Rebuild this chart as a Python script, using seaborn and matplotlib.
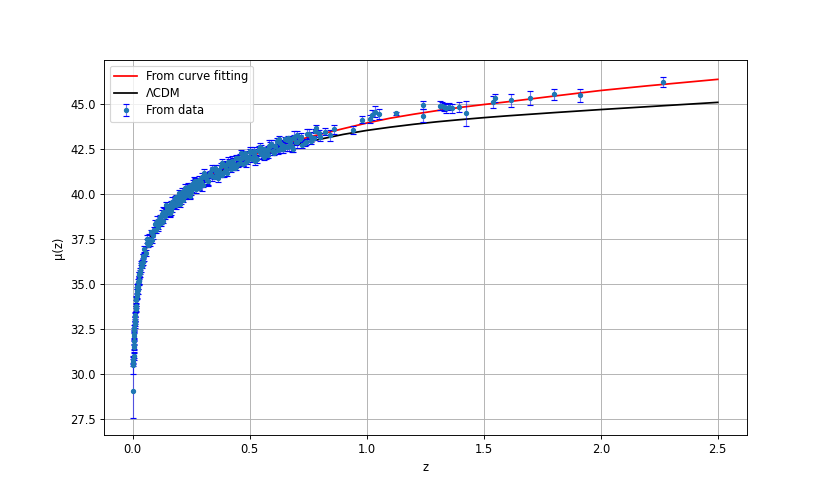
import matplotlib
matplotlib.use("Agg")
import matplotlib.pyplot as plt
import seaborn as sns
import pandas as pd

# ---------------- curves ----------------
z_fit = [0.01, 0.02, 0.03, 0.05, 0.075, 0.1, 0.15, 0.2, 0.25, 0.3, 0.35, 0.4, 0.45, 0.5, 0.55,
         0.6, 0.65, 0.7, 0.75, 0.8, 0.9, 1.0, 1.1, 1.2, 1.3, 1.4, 1.5, 1.6, 1.8, 2.0, 2.2, 2.4, 2.5]
mu_fit = [33.15, 34.66, 35.56, 36.68, 37.54, 38.17, 39.08, 39.76, 40.30, 40.76, 41.14, 41.48, 41.78,
          42.06, 42.31, 42.54, 42.76, 42.96, 43.14, 43.30, 43.62, 43.93, 44.20, 44.42, 44.62, 44.80,
          44.96, 45.11, 45.43, 45.74, 46.00, 46.24, 46.36]

z_lcdm = [0.01, 0.02, 0.03, 0.05, 0.075, 0.1, 0.15, 0.2, 0.25, 0.3, 0.35, 0.4, 0.45, 0.5, 0.55,
          0.6, 0.65, 0.7, 0.75, 0.8, 0.9, 1.0, 1.1, 1.2, 1.3, 1.4, 1.5, 1.6, 1.8, 2.0, 2.2, 2.4, 2.5]
mu_lcdm = [33.15, 34.66, 35.56, 36.68, 37.54, 38.17, 39.07, 39.74, 40.26, 40.70, 41.07, 41.40, 41.68,
           41.94, 42.17, 42.38, 42.56, 42.73, 42.88, 43.03, 43.30, 43.52, 43.70, 43.86, 44.00, 44.12,
           44.23, 44.33, 44.51, 44.68, 44.84, 45.00, 45.08]

# ---------------- data ----------------
z_low = [0.0012, 0.0028, 0.0030, 0.0032, 0.0035, 0.004, 0.0045, 0.005, 0.0055, 0.006, 0.0065, 0.007,
         0.0075, 0.008, 0.0085, 0.009, 0.0095, 0.010, 0.011, 0.012, 0.013, 0.014, 0.015, 0.016, 0.017,
         0.018, 0.019, 0.020, 0.021, 0.022, 0.023, 0.024, 0.025, 0.026, 0.027, 0.028, 0.029, 0.030,
         0.032, 0.034, 0.036, 0.038, 0.040, 0.042, 0.044, 0.046, 0.048, 0.050]
mu_low = [29.02, 30.45, 30.62, 30.78, 30.99, 30.98, 31.47, 31.57, 32.07, 31.79, 32.22, 32.53, 32.41,
          32.97, 32.75, 33.00, 32.84, 33.27, 33.18, 33.60, 33.64, 34.10, 33.78, 34.17, 34.45, 34.31,
          34.84, 34.61, 34.84, 34.66, 35.08, 34.87, 35.19, 35.15, 35.53, 35.14, 35.46, 35.71, 35.58,
          36.13, 35.91, 36.16, 35.99, 36.42, 36.22, 36.55, 36.52, 36.90]
err_low = [1.50, 0.45, 0.20, 0.18, 0.15, 0.20, 0.12, 0.25, 0.18, 0.14, 0.22, 0.16, 0.10, 0.24, 0.19,
           0.15, 0.20, 0.12, 0.25, 0.18, 0.14, 0.22, 0.16, 0.10, 0.24, 0.19, 0.15, 0.20, 0.12, 0.25,
           0.18, 0.14, 0.22, 0.16, 0.10, 0.24, 0.19, 0.15, 0.20, 0.12, 0.25, 0.18, 0.14, 0.22, 0.16,
           0.10, 0.24, 0.19]

z_mid = [0.055, 0.060, 0.065, 0.070, 0.075, 0.080, 0.085, 0.090, 0.095, 0.100, 0.105, 0.110, 0.115,
         0.120, 0.125, 0.130, 0.135, 0.140, 0.145, 0.150, 0.155, 0.160, 0.165, 0.170, 0.175, 0.180,
         0.185, 0.190, 0.195, 0.200, 0.205, 0.210, 0.215, 0.220, 0.225, 0.230, 0.235, 0.240, 0.245,
         0.250, 0.255, 0.260, 0.265, 0.270, 0.275, 0.280, 0.285, 0.290, 0.295, 0.300]
mu_mid = [36.71, 37.25, 37.17, 37.49, 37.26, 37.86, 37.71, 37.97, 38.31, 37.97, 38.35, 38.26, 38.62,
          38.56, 38.89, 38.50, 38.94, 38.78, 39.21, 39.03, 39.26, 38.95, 39.48, 39.27, 39.47, 39.76,
          39.37, 39.71, 39.58, 39.90, 39.80, 40.09, 39.67, 40.07, 39.89, 40.29, 40.09, 40.30, 39.97,
          40.48, 40.25, 40.42, 40.69, 40.29, 40.60, 40.46, 40.76, 40.65, 40.93, 40.50]
err_mid = [0.16, 0.22, 0.13, 0.27, 0.19, 0.12, 0.24, 0.17, 0.21, 0.14,
           0.16, 0.22, 0.13, 0.27, 0.19, 0.12, 0.24, 0.17, 0.21, 0.14,
           0.16, 0.22, 0.13, 0.27, 0.19, 0.12, 0.24, 0.17, 0.21, 0.14,
           0.16, 0.22, 0.13, 0.27, 0.19, 0.12, 0.24, 0.17, 0.21, 0.14,
           0.16, 0.22, 0.13, 0.27, 0.19, 0.12, 0.24, 0.17, 0.21, 0.14]

z_up = [0.31, 0.32, 0.33, 0.34, 0.35, 0.36, 0.37, 0.38, 0.39, 0.40, 0.41, 0.42, 0.43, 0.44, 0.45,
        0.46, 0.47, 0.48, 0.49, 0.50, 0.51, 0.52, 0.53, 0.54, 0.55, 0.56, 0.57, 0.58, 0.59, 0.60,
        0.61, 0.62, 0.63, 0.64, 0.65, 0.66, 0.67, 0.68, 0.69, 0.70, 0.72, 0.74, 0.76, 0.78, 0.80, 0.82]
mu_up = [40.94, 40.69, 41.15, 41.00, 41.42, 41.03, 41.32, 41.05, 41.62, 41.38, 41.66, 41.36, 41.66,
         41.96, 41.64, 41.94, 41.68, 42.11, 41.95, 42.34, 41.93, 42.20, 41.91, 42.46, 42.21, 42.48,
         42.16, 42.45, 42.74, 42.40, 42.68, 42.41, 42.83, 42.66, 43.04, 42.62, 42.88, 42.58, 43.12,
         42.86, 43.15, 42.86, 43.17, 43.48, 43.16, 43.46]
err_up = [0.18, 0.25, 0.14, 0.30, 0.20, 0.16, 0.27, 0.13, 0.22,
          0.18, 0.25, 0.14, 0.30, 0.20, 0.16, 0.27, 0.13, 0.22,
          0.18, 0.25, 0.14, 0.30, 0.20, 0.16, 0.27, 0.13, 0.22,
          0.18, 0.25, 0.14, 0.30, 0.20, 0.16, 0.27, 0.13, 0.22,
          0.18, 0.25, 0.14, 0.30, 0.20, 0.16, 0.27, 0.13, 0.22, 0.18]

z_mid2 = [0.108, 0.118, 0.128, 0.138, 0.148, 0.158, 0.168, 0.178, 0.188, 0.198, 0.208, 0.218, 0.228,
          0.238, 0.248, 0.258, 0.268, 0.278, 0.288, 0.298, 0.308, 0.318, 0.328, 0.338, 0.348, 0.358,
          0.368, 0.378, 0.388, 0.398, 0.408, 0.418, 0.428, 0.438, 0.448, 0.458, 0.468, 0.478, 0.488,
          0.498, 0.508, 0.518, 0.528, 0.538, 0.548, 0.558, 0.568, 0.578, 0.588, 0.598, 0.608, 0.618,
          0.628, 0.638, 0.648, 0.658, 0.668, 0.678, 0.688, 0.698, 0.715, 0.735, 0.755, 0.775, 0.795]
mu_mid2 = [38.14, 38.69, 38.98, 38.82, 39.10, 38.93, 39.53, 39.35, 39.69, 40.04, 39.68, 39.97, 39.98,
           40.39, 40.08, 40.52, 40.73, 40.48, 40.70, 40.47, 41.01, 40.77, 41.05, 41.35, 40.95, 41.21,
           41.18, 41.55, 41.21, 41.62, 41.79, 41.51, 41.70, 41.44, 41.96, 41.70, 41.97, 42.24, 41.83,
           42.06, 42.01, 42.36, 42.00, 42.40, 42.56, 42.27, 42.44, 42.17, 42.68, 42.40, 42.65, 42.92,
           42.49, 42.72, 42.66, 43.00, 42.63, 43.02, 43.17, 42.87, 43.06, 42.81, 43.34, 43.09, 43.36]
err_mid2 = [0.20, 0.15, 0.26, 0.12, 0.23, 0.17, 0.30, 0.14, 0.21, 0.18, 0.25, 0.13, 0.19,
            0.20, 0.15, 0.26, 0.12, 0.23, 0.17, 0.30, 0.14, 0.21, 0.18, 0.25, 0.13, 0.19,
            0.20, 0.15, 0.26, 0.12, 0.23, 0.17, 0.30, 0.14, 0.21, 0.18, 0.25, 0.13, 0.19,
            0.20, 0.15, 0.26, 0.12, 0.23, 0.17, 0.30, 0.14, 0.21, 0.18, 0.25, 0.13, 0.19,
            0.20, 0.15, 0.26, 0.12, 0.23, 0.17, 0.30, 0.14, 0.21, 0.18, 0.25, 0.13, 0.19]

z_mid3 = [0.063, 0.083, 0.103, 0.123, 0.143, 0.163, 0.183, 0.203, 0.223, 0.243, 0.263, 0.283, 0.303,
          0.323, 0.343, 0.363, 0.383, 0.403, 0.423, 0.443, 0.463, 0.483, 0.503, 0.523, 0.543, 0.563,
          0.583, 0.603, 0.623, 0.643, 0.663, 0.683, 0.703, 0.723, 0.743, 0.763, 0.783]
mu_mid3 = [37.47, 37.41, 38.46, 38.35, 39.36, 39.05, 39.83, 39.42, 40.34, 39.88, 40.64, 40.32, 41.16,
           40.71, 41.37, 40.85, 41.69, 41.15, 41.84, 41.46, 42.24, 41.76, 42.36, 41.80, 42.60, 42.02,
           42.68, 42.27, 43.02, 42.51, 43.09, 42.51, 43.29, 42.69, 43.33, 42.91, 43.63]
err_mid3 = [0.22, 0.16, 0.28, 0.14, 0.20, 0.25, 0.12, 0.18,
            0.22, 0.16, 0.28, 0.14, 0.20, 0.25, 0.12, 0.18,
            0.22, 0.16, 0.28, 0.14, 0.20, 0.25, 0.12, 0.18,
            0.22, 0.16, 0.28, 0.14, 0.20, 0.25, 0.12, 0.18,
            0.22, 0.16, 0.28, 0.14, 0.20]

z_high = [0.845, 0.859, 0.941, 0.980, 1.015, 1.022, 1.034, 1.054, 1.126, 1.240, 1.240, 1.311, 1.321,
          1.330, 1.340, 1.350, 1.364, 1.396, 1.423, 1.541, 1.549, 1.615, 1.696, 1.800, 1.910, 2.264]
mu_high = [43.25, 43.59, 43.54, 44.12, 44.15, 44.38, 44.57, 44.44, 44.47, 44.94, 44.34, 44.90, 44.90,
           44.82, 44.76, 44.84, 44.74, 44.80, 44.47, 45.09, 45.34, 45.19, 45.32, 45.52, 45.47, 46.22]
err_high = [0.30, 0.25, 0.22, 0.20, 0.22, 0.28, 0.30, 0.28, 0.10, 0.22, 0.35, 0.25, 0.22,
            0.20, 0.25, 0.20, 0.25, 0.28, 0.70, 0.35, 0.22, 0.37, 0.40, 0.30, 0.37, 0.28]

data = pd.DataFrame({
    "z": z_low + z_mid + z_up + z_mid2 + z_mid3 + z_high,
    "mu": mu_low + mu_mid + mu_up + mu_mid2 + mu_mid3 + mu_high,
    "err": err_low + err_mid + err_up + err_mid2 + err_mid3 + err_high,
})

fig, ax = plt.subplots(figsize=(10, 6), dpi=83)
fig.subplots_adjust(bottom=0.126)

sns.lineplot(x=z_fit, y=mu_fit, color="red", label="From curve fitting", ax=ax, linewidth=1.5)
sns.lineplot(x=z_lcdm, y=mu_lcdm, color="black", label="ΛCDM", ax=ax, linewidth=1.5)

eb = ax.errorbar(data["z"], data["mu"], yerr=data["err"], fmt="o", color="C0", ms=3.6,
                 ecolor="blue", elinewidth=1.0, capsize=2.6, label="From data")
eb[2][0].set_alpha(0.55)

ax.grid(True)
ax.set_xlabel("z")
ax.set_ylabel("μ(z)")
ax.legend(loc="upper left", labelspacing=0.35)

fig.savefig("out.png", dpi=83)
